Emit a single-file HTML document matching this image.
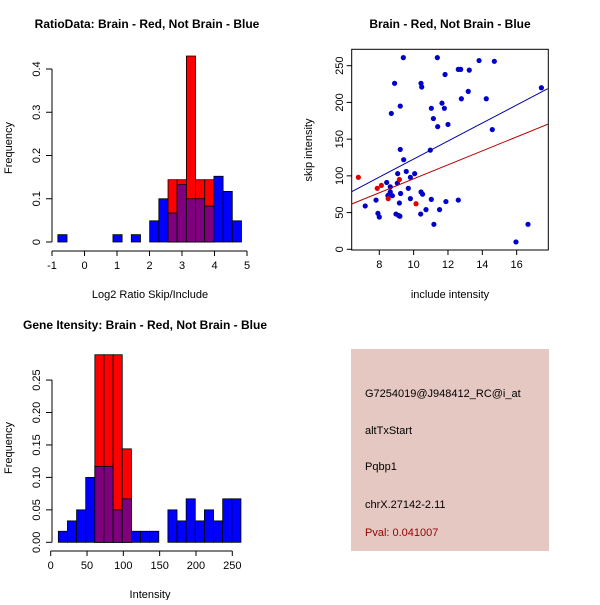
<!DOCTYPE html>
<html><head><meta charset="utf-8"><style>
body{margin:0;background:#fff}
svg text{font-family:"Liberation Sans",sans-serif;font-size:11px}
.t{font-weight:bold;font-size:12px}
</style></head><body>
<svg id="s" width="600" height="600">
<rect x="351" y="349" width="198" height="202" fill="#E5C8C1"/>
<text x="365" y="397">G7254019@J948412_RC@i_at</text>
<text x="365" y="434">altTxStart</text>
<text x="365" y="470">Pqbp1</text>
<text x="365" y="508">chrX.27142-2.11</text>
<text x="365" y="536" fill="#990000">Pval: 0.041007</text>
</svg>
<script>
// Ratio histogram
const ratioBinStart=-0.82, ratioBinWidth=0.2825;
const ratioBlue=[0.017,0,0,0,0,0,0.017,0,0.017,0,0.049,0.1,0.067,0.133,0.1,0.1,0.083,0.152,0.117,0.049];
const ratioRed=[0,0,0,0,0,0,0,0,0,0,0,0,0.144,0.144,0.43,0.144,0.144,0,0,0];
const ratioXTicks=[-1,0,1,2,3,4,5];
const ratioYTicks=[0,0.1,0.2,0.3,0.4];
// Intensity histogram
const intBinStart=10.5, intBinWidth=12.57;
const intBlue=[0.017,0.033,0.05,0.1,0.117,0.117,0.05,0.067,0.017,0.017,0.017,0,0.05,0.033,0.067,0.033,0.05,0.033,0.067,0.067];
const intRed=[0,0,0,0,0.289,0.289,0.289,0.144,0,0,0,0,0,0,0,0,0,0,0,0];
const intXTicks=[0,50,100,150,200,250];
const intYTicks=[0,0.05,0.1,0.15,0.2,0.25];
const intYLabels=["0.00","0.05","0.10","0.15","0.20","0.25"];
// Scatter
const blueX=[9.40,11.38,13.81,14.70,12.60,12.74,13.24,11.83,10.43,10.47,8.89,17.44,13.18,14.23,12.78,11.65,11.79,9.22,11.03,11.15,8.70,11.40,12.0,14.58,10.97,9.22,9.42,9.57,9.07,10.06,9.81,8.43,9.05,8.64,9.69,8.64,8.54,9.24,10.43,10.52,8.76,8.50,9.81,11.03,7.81,11.88,12.60,9.17,7.18,10.72,11.51,8.97,7.92,9.13,9.20,10.41,8.0,11.18,16.66,15.96];
const blueY=[261,261,257,256,245,245,244,238,226,221,226,220,215,205,205,199,192,195,192,178,185,167,170,163,135,136,122,106,103,103,98,91,90,85,83,78,74,76,78,75,73,73,69,68,67,65,67,63,59,54,54,48,49,46,45,48,44,34,34,10];
const redX=[6.78,7.88,8.12,9.17,8.52,10.14];
const redY=[98,83,87,95,69,62];
const blueFit=[0.03,12.28], redFit=[0.9,9.51];
const scXTicks=[8,10,12,14,16];
const scYTicks=[0,50,100,150,200,250];

const S=document.getElementById('s'),NS='http://www.w3.org/2000/svg';
function el(t,a,txt){const e=document.createElementNS(NS,t);for(const k in a)e.setAttribute(k,a[k]);if(txt!==undefined)e.textContent=txt;S.appendChild(e);return e;}
function txt(x,y,s,cls,rot,anchor){const a={x:x,y:y,'text-anchor':anchor||'middle'};if(cls)a['class']=cls;if(rot)a.transform='rotate(-90 '+x+' '+y+')';return el('text',a,s);}

function hist(o){
  const X=v=>o.x0+(v-o.xa)*o.xs, Y=v=>o.y0-v*o.ys;
  for(let i=0;i<o.blue.length;i++){
    const a=o.start+i*o.w,b=a+o.w;
    const bl=o.blue[i],rd=o.red[i],mn=Math.min(bl,rd);
    if(bl>0){const r=el('rect',{x:X(a),y:Y(bl),width:X(b)-X(a),height:Y(0)-Y(bl),fill:'#0000FF',stroke:'#000','stroke-width':0.8});
      }
    if(rd>0){const r=el('rect',{x:X(a),y:Y(rd),width:X(b)-X(a),height:Y(0)-Y(rd),fill:'#FF0000',stroke:'#000','stroke-width':0.8});
      }
    if(mn>0){const r=el('rect',{x:X(a),y:Y(mn),width:X(b)-X(a),height:Y(0)-Y(mn),fill:'#7F007F',stroke:'#000','stroke-width':0.8});
      }
  }
  const ax=o.xticks, ay=o.yticks;
  const xl=el('line',{x1:X(ax[0]),x2:X(ax[ax.length-1]),y1:o.xaxY,y2:o.xaxY,stroke:'#000'});
  
  ax.forEach(v=>{el('line',{x1:X(v),x2:X(v),y1:o.xaxY,y2:o.xaxY+5,stroke:'#000'});
    const t=txt(X(v),o.xaxY+18,String(v));});
  const yl=el('line',{x1:o.yaxX,x2:o.yaxX,y1:Y(ay[0]),y2:Y(ay[ay.length-1]),stroke:'#000'});
  
  ay.forEach((v,i)=>{el('line',{x1:o.yaxX-6,x2:o.yaxX,y1:Y(v),y2:Y(v),stroke:'#000'});
    const t=txt(o.yaxX-12,Y(v),o.ylabels?o.ylabels[i]:String(v),null,true);});
}
hist({x0:52,xa:-1,xs:32.5,y0:242,ys:432.5,start:ratioBinStart,w:ratioBinWidth,blue:ratioBlue,red:ratioRed,xticks:ratioXTicks,yticks:ratioYTicks,xaxY:251,yaxX:52});
hist({x0:50.7,xa:0,xs:0.7264,y0:542.3,ys:649,start:intBinStart,w:intBinWidth,blue:intBlue,red:intRed,xticks:intXTicks,yticks:intYTicks,ylabels:intYLabels,xaxY:551,yaxX:52});

let t;
t=txt(147,28,'RatioData: Brain - Red, Not Brain - Blue','t');
t=txt(150,298,'Log2 Ratio Skip/Include');
t=txt(12,148,'Frequency',null,true);
t=txt(145,329,'Gene Itensity: Brain - Red, Not Brain - Blue','t');
t=txt(150,598,'Intensity');
t=txt(12,448,'Frequency',null,true);

// scatter
const SX=v=>379.3+(v-8)*17.17, SY=v=>249.3-v*0.7344;
const bx=el('rect',{x:351.7,y:49.3,width:196.6,height:200.7,fill:'none',stroke:'#000'});

scXTicks.forEach(v=>{el('line',{x1:SX(v),x2:SX(v),y1:250,y2:255,stroke:'#000'});
  const q=txt(SX(v),268,String(v));});
scYTicks.forEach(v=>{el('line',{x1:346.7,x2:351.7,y1:SY(v),y2:SY(v),stroke:'#000'});
  const q=txt(343,SY(v),String(v),null,true);});
function fit(c,col,name){const xa=6.39,xb=17.81;const l=el('line',{x1:SX(xa),y1:SY(c[0]+c[1]*xa),x2:SX(xb),y2:SY(c[0]+c[1]*xb),stroke:col,'stroke-width':1});
  }
blueX.forEach((v,i)=>{const c=el('circle',{cx:SX(v),cy:SY(blueY[i]),r:2.6,fill:'#0000CC'});
  });
redX.forEach((v,i)=>{const c=el('circle',{cx:SX(v),cy:SY(redY[i]),r:2.6,fill:'#DD0000'});
  });
fit(blueFit,'#0000AA','blue-fit-line');fit(redFit,'#BB0000','red-fit-line');
t=txt(450,28,'Brain - Red, Not Brain - Blue','t');
t=txt(450,298,'include intensity');
t=txt(312,150,'skip intensity',null,true);
</script>
</body></html>
